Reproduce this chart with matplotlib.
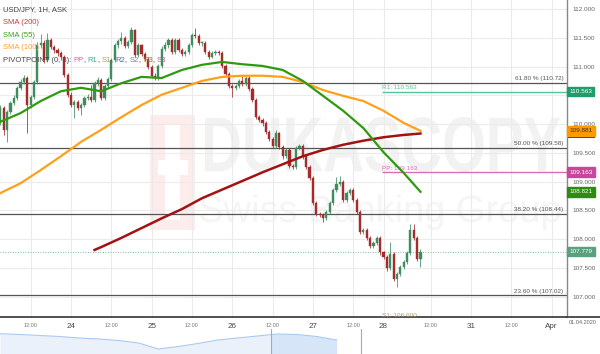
import numpy as np
import matplotlib.pyplot as plt
from matplotlib.transforms import blended_transform_factory, Affine2D
from matplotlib.textpath import TextPath
from matplotlib.patches import PathPatch, Rectangle
from matplotlib.font_manager import FontProperties

plt.rcParams['font.family'] = ['Liberation Sans', 'DejaVu Sans']

# hourly candles, USD/JPY (open of each bar = previous close)
first_open = 110.04
close = [110.28, 109.90, 110.21, 110.37, 110.45, 110.63, 110.73, 110.80, 110.33, 110.47,
         110.73, 111.37, 111.41, 111.11, 111.46, 111.34, 111.29, 111.24, 111.17, 110.85,
         110.51, 110.33, 110.38, 110.28, 110.33, 110.45, 110.47, 110.42, 110.71, 110.77,
         110.45, 110.66, 110.78, 111.11, 111.37, 111.44, 111.50, 111.36, 111.43, 111.64,
         111.20, 111.37, 111.22, 111.13, 110.99, 110.84, 110.80, 111.01, 111.31, 111.37,
         111.46, 111.25, 111.46, 111.29, 111.22, 111.25, 111.37, 111.55, 111.53, 111.41,
         111.41, 111.25, 111.17, 111.24, 111.25, 111.24, 111.01, 110.87, 110.66, 110.63,
         110.66, 110.75, 110.70, 110.80, 110.61, 110.42, 110.12, 110.07, 110.02, 109.86,
         109.74, 109.62, 109.84, 109.60, 109.44, 109.55, 109.27, 109.25, 109.58, 109.62,
         109.44, 109.25, 109.06, 108.63, 108.44, 108.42, 108.37, 108.47, 108.63, 108.85,
         108.96, 108.99, 108.68, 108.80, 108.85, 108.68, 108.47, 108.12, 108.16, 108.02,
         107.88, 107.93, 108.02, 107.77, 107.69, 107.50, 107.74, 107.31, 107.39, 107.51,
         107.60, 107.76, 108.16, 108.02, 107.65, 107.779]
high = [110.33, 110.31, 110.25, 110.40, 110.50, 110.67, 110.78, 110.86, 110.84, 110.50,
        110.76, 111.42, 111.57, 111.46, 111.58, 111.50, 111.38, 111.33, 111.27, 111.20,
        110.88, 110.55, 110.42, 110.42, 110.37, 110.49, 110.52, 110.68, 110.75, 110.81,
        110.80, 110.70, 110.82, 111.15, 111.41, 111.48, 111.60, 111.53, 111.47, 111.69,
        111.66, 111.41, 111.40, 111.25, 111.16, 111.02, 110.88, 111.05, 111.35, 111.42,
        111.50, 111.49, 111.50, 111.49, 111.32, 111.29, 111.41, 111.59, 111.67, 111.57,
        111.45, 111.44, 111.28, 111.27, 111.29, 111.28, 111.27, 111.04, 110.90, 110.69,
        110.70, 110.79, 110.85, 110.84, 110.83, 110.64, 110.45, 110.15, 110.10, 110.05,
        109.89, 109.77, 109.90, 109.87, 109.63, 109.58, 109.58, 109.30, 109.62, 109.66,
        109.65, 109.47, 109.28, 109.09, 108.66, 108.47, 108.45, 108.50, 108.66, 108.89,
        109.08, 109.10, 109.02, 108.84, 108.89, 108.88, 108.71, 108.50, 108.19, 108.19,
        108.05, 107.97, 108.06, 108.05, 107.80, 107.72, 107.95, 107.77, 107.42, 107.55,
        107.64, 107.79, 108.26, 108.26, 108.05, 107.82]
low = [109.99, 109.81, 109.69, 110.17, 110.33, 110.42, 110.60, 110.70, 109.84, 110.28,
       110.44, 110.70, 111.33, 111.06, 111.08, 111.30, 111.24, 111.19, 111.12, 110.82,
       110.47, 110.29, 110.10, 110.24, 110.15, 110.30, 110.42, 110.38, 110.38, 110.67,
       110.41, 110.42, 110.63, 110.75, 111.08, 111.33, 111.40, 111.32, 111.33, 111.40,
       111.16, 111.17, 111.18, 111.09, 110.95, 110.80, 110.76, 110.77, 110.98, 111.27,
       111.33, 111.21, 111.22, 111.25, 111.18, 111.19, 111.22, 111.34, 111.49, 111.37,
       111.36, 111.21, 111.13, 111.14, 111.20, 111.20, 110.97, 110.83, 110.62, 110.47,
       110.59, 110.62, 110.66, 110.66, 110.57, 110.38, 110.08, 110.03, 109.97, 109.82,
       109.70, 109.58, 109.58, 109.56, 109.40, 109.41, 109.23, 109.21, 109.22, 109.55,
       109.40, 109.21, 109.02, 108.59, 108.40, 108.38, 108.30, 108.33, 108.44, 108.60,
       108.82, 108.93, 108.64, 108.65, 108.76, 108.64, 108.43, 108.08, 108.08, 107.98,
       107.84, 107.84, 107.90, 107.73, 107.65, 107.45, 107.47, 107.27, 107.16, 107.36,
       107.48, 107.56, 107.72, 107.98, 107.61, 107.52]

# moving averages (bar index -> value)
sma_k = [0, 6, 12, 18, 24, 30, 36, 42, 48, 54, 60, 66, 72, 78, 84, 90, 96, 102, 108, 114, 120, 125]
sma55 = [110.04, 110.19, 110.40, 110.57, 110.63, 110.57, 110.71, 110.82, 110.80, 110.94, 111.03,
         111.08, 111.04, 111.01, 110.94, 110.75, 110.49, 110.23, 109.93, 109.51, 109.15, 108.821]
sma100 = [108.80, 108.97, 109.20, 109.44, 109.69, 109.90, 110.12, 110.33, 110.51, 110.63, 110.75,
          110.82, 110.84, 110.84, 110.82, 110.73, 110.59, 110.49, 110.40, 110.23, 110.02, 109.881]
sma200_k = [28, 30, 36, 42, 48, 54, 60, 66, 72, 78, 84, 90, 96, 102, 108, 114, 120, 125]
sma200 = [107.81, 107.86, 108.02, 108.19, 108.36, 108.52, 108.71, 108.86, 109.01, 109.16,
          109.30, 109.44, 109.55, 109.64, 109.71, 109.77, 109.81, 109.835]

fib_levels = [110.72, 109.58, 108.44, 107.02]
fib_labels = ['61.80 % (110.72)', '50.00 % (109.58)', '38.20 % (108.44)', '23.60 % (107.02)']
pivot_names = ['R1', 'PP', 'S1']
pivot_vals = [110.563, 109.163, 106.600]
pivot_start = 113.6

tick_k = [9, 21, 33, 45, 57, 69, 81, 93, 105, 114, 128, 140, 152, 164]
tick_lbl = ['12:00', '24', '12:00', '25', '12:00', '26', '12:00', '27', '12:00', '28',
            '12:00', '31', '12:00', 'Apr']

nav_level = [20.3, 19.5, 18.5, 17.5, 16.0, 15.0, 13.5, 11.0, 5.0, 7.5, 10.5, 14.0,
             16.0, 18.0, 20.0, 19.5, 17.5, 14.0]

last_price = 107.779

GREEN = '#3f8d5f'
RED = '#a32c2c'

fig = plt.figure(figsize=(6.0, 3.54), dpi=100)

# background layer in pixel coordinates (watermark)
bg = fig.add_axes([0, 0, 1, 1])
bg.set_xlim(0, 600)
bg.set_ylim(354, 0)
bg.axis('off')

bold = FontProperties(family='Liberation Sans', weight='bold')
reg = FontProperties(family='Liberation Sans')
tp = TextPath((0, 0), 'DUKASCOPY', size=1, prop=bold)
e = tp.get_extents()
tr = Affine2D().translate(-e.x0, -e.y0).scale(355 / e.width, -55 / e.height).translate(205, 172)
bg.add_patch(PathPatch(tp, transform=tr + bg.transData, fc='#f2f2f2', ec='none'))
tp2 = TextPath((0, 0), 'Swiss Banking Group', size=1, prop=reg)
e2 = tp2.get_extents()
s2 = 360 / e2.width
tr2 = Affine2D().translate(-e2.x0, 0).scale(s2, -s2).translate(200, 222)
bg.add_patch(PathPatch(tp2, transform=tr2 + bg.transData, fc='#f5f5f5', ec='none'))
# logo
bg.add_patch(Rectangle((150, 115), 45, 115, fc='#fcecec', ec='none'))
bg.add_patch(Rectangle((165, 125), 15, 95, fc='white', ec='none'))
bg.add_patch(Rectangle((158, 160), 30, 15, fc='white', ec='none'))
bg.plot([567, 600], [317, 317], color='#333333', lw=1.2)

# main chart
ax = fig.add_axes([0, 1 - 317 / 354, 567 / 600, 317 / 354])
ax.set_facecolor('none')
ax.set_xlim(-0.12, 168.6)
ax.set_ylim(106.644, 112.157)

opens = [first_open] + close[:-1]
idx = np.arange(len(close))
for i in idx:
    o, c = opens[i], close[i]
    col = GREEN if c >= o else RED
    ax.vlines(i, low[i], high[i], color=col, lw=0.7, alpha=0.8, zorder=3)
    ax.bar(i, max(abs(c - o), 0.012), bottom=min(o, c), width=0.65, color=col,
           edgecolor=col, lw=0.3, zorder=4)

ax.plot(sma200_k, sma200, color='#a31212', lw=1.8, zorder=5)
ax.plot(sma_k, sma100, color='#ff9f1a', lw=1.6, zorder=5)
ax.plot(sma_k, sma55, color='#2f9a10', lw=1.6, zorder=5)

bt = blended_transform_factory(ax.transAxes, ax.transData)
for lv, lb in zip(fib_levels, fib_labels):
    ax.axhline(lv, color='#555555', lw=0.9, zorder=2)
    ax.text(0.994, lv + 0.03, lb, transform=bt, ha='right', va='bottom', fontsize=4.6,
            color='#555555')

pcol = {'R1': '#52c79a', 'PP': '#d86fb3', 'S1': '#b39a6e'}
for nm, v in zip(pivot_names, pivot_vals):
    ax.hlines(v, pivot_start, 168.6, color=pcol[nm], lw=1.0, zorder=2)
    ax.text(pivot_start, v + 0.025, f'{nm}: {v:.3f}', fontsize=4.6, color=pcol[nm],
            ha='left', va='bottom', clip_on=True)

ax.axhline(last_price, color='#5f9f80', lw=0.6, ls=(0, (1, 2)), zorder=2)

ax.set_xticks(tick_k)
ax.set_xticklabels(tick_lbl)
for t in ax.get_xticklabels():
    if ':' in t.get_text():
        t.set_fontsize(4)
        t.set_color('#777777')
    else:
        t.set_fontsize(5.8)
        t.set_color('#444444')
ax.tick_params(axis='x', length=0, pad=4)

yt = np.arange(107.0, 112.01, 0.5)
ax.yaxis.tick_right()
ax.set_yticks(yt)
ax.set_yticklabels([f'{v:.3f}' for v in yt])
ax.tick_params(axis='y', length=0, pad=4, labelsize=4.6, labelcolor='#666666')
ax.grid(color='#ebebeb', lw=0.8, zorder=0)
ax.set_axisbelow(True)
for s in ['top', 'left']:
    ax.spines[s].set_visible(False)
ax.spines['bottom'].set_color('#333333')
ax.spines['bottom'].set_linewidth(1.2)
ax.spines['right'].set_color('#888888')
ax.spines['right'].set_linewidth(1.0)

# price boxes on the right axis
ax.add_patch(Rectangle((1.002, 109.835 - 0.07), 0.047, 0.12, transform=bt, fc='#a80d0d',
                       ec='none', clip_on=False, zorder=9))
boxes = [(110.563, '110.563', '#1f9d6b', 'white'),
         (109.881, '109.881', '#ff9900', '#333333'),
         (109.163, '109.163', '#c9479b', 'white'),
         (108.821, '108.821', '#2e8b12', 'white'),
         (last_price, '107.779', '#5a9f7e', 'white')]
for v, s, fc, tc in boxes:
    ax.text(1.004, v, s, transform=bt, ha='left', va='center', fontsize=4.6, color=tc,
            clip_on=False, zorder=10, bbox=dict(boxstyle='square,pad=0.35', fc=fc, ec=fc))

# legend layer on top of the chart
fg = fig.add_axes([0, 0, 1, 1], facecolor='none')
fg.set_xlim(0, 600)
fg.set_ylim(354, 0)
fg.axis('off')
leg = [('USD/JPY, 1H, ASK', '#444444'), ('SMA (200)', '#c63a3a'),
       ('SMA (55)', '#3aa01d'), ('SMA (100)', '#ffa030')]
for j, (s, c) in enumerate(leg):
    fg.text(3, 10 + 12.6 * j, s, fontsize=5.5, color=c, va='center', ha='left')
parts = [('PIVOTPOINT (0, 3): ', '#444444'), ('PP', '#e05fb5'), (', ', '#444444'),
         ('R1', '#2fb58a'), (', ', '#444444'), ('S1', '#b89a6a'), (', ', '#444444'),
         ('R2', '#5566cc'), (', ', '#444444'), ('S2', '#8a7a9a'), (', ', '#444444'),
         ('R3', '#a0702a'), (', ', '#444444'), ('S3', '#cc44cc')]
prev = fg.text(3, 60.5, parts[0][0], fontsize=5.5, color=parts[0][1], va='center', ha='left')
for s, c in parts[1:]:
    prev = fg.annotate(s, xy=(1, 0), xycoords=prev, fontsize=5.5, color=c, va='bottom', ha='left')

fig.text(583 / 600, 1 - 322 / 354, '01.04.2020', fontsize=4, color='#666666', ha='center', va='center')

# navigator strip
nav = fig.add_axes([0, 0, 1, 25 / 354])
nav.set_xlim(0, 600 / 19.8)
nav.set_ylim(0, 25)
nav.axis('off')
nx = np.arange(len(nav_level))
nav.fill_between(nx, nav_level, 0, color='#eaf1fb', lw=0)
win = nx >= 14
wx = np.r_[13.69, nx[win]]
wy = np.r_[np.interp(13.69, nx, nav_level), np.array(nav_level)[win]]
nav.fill_between(wx, wy, 0, color='#d6e5f8', lw=0)
nav.plot(nx, nav_level, color='#a9c9ef', lw=0.8)
nav.axvline(13.69, color='#aaaaaa', lw=0.8)
nav.axvline(18.23, color='#aaaaaa', lw=0.8)

fig.savefig('out.png', dpi=100)
